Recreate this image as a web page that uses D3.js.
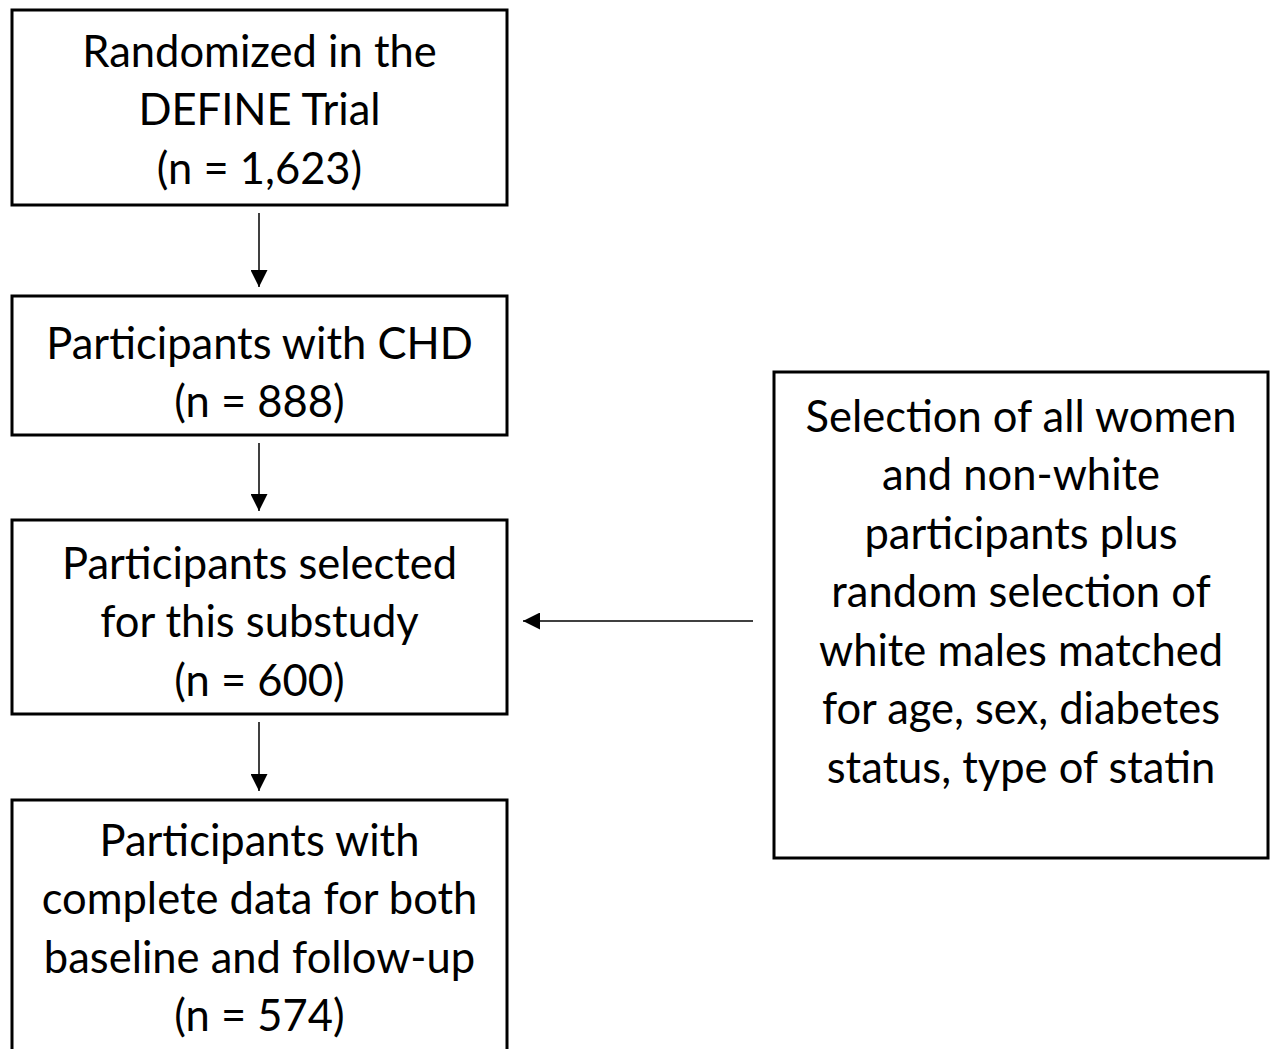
<!DOCTYPE html>
<html><head><meta charset="utf-8">
<script src="https://cdn.jsdelivr.net/npm/d3@7"></script>
<style>body{margin:0;background:#fff}</style>
</head><body>
<script>
const boxLabels = [
  ["Randomized in the", "DEFINE Trial"],
  ["Participants with CHD"],
  ["Participants selected", "for this substudy"],
  ["Participants with", "complete data for both", "baseline and follow-up"]
];
const boxCounts = ["1,623", "888", "600", "574"];
const sideLabel = ["Selection of all women", "and non-white", "participants plus", "random selection of", "white males matched", "for age, sex, diabetes", "status, type of statin"];

const W = 1270, H = 1049;
const svg = d3.select("body").append("svg").attr("width", W).attr("height", H);
const FS = 43.5, LH = 58.5;
const font = "Lato, 'Open Sans', sans-serif";

// layout (pixel geometry)
const boxGeom = [
  {x0: 12, x1: 507, y0: 10, y1: 205, firstLine: 51},
  {x0: 12, x1: 507, y0: 296, y1: 435, firstLine: 343},
  {x0: 12, x1: 507, y0: 520, y1: 714, firstLine: 563},
  {x0: 12, x1: 507, y0: 800, y1: 1080, firstLine: 840}
];
const sideGeom = {x0: 774, x1: 1268, y0: 372, y1: 858, firstLine: 416};

svg.append("defs").append("marker")
  .attr("id", "ah").attr("viewBox", "0 0 10 10").attr("refX", 10).attr("refY", 5)
  .attr("markerWidth", 17).attr("markerHeight", 17).attr("markerUnits", "userSpaceOnUse")
  .attr("orient", "auto")
  .append("path").attr("d", "M0,0 L10,5 L0,10 Z").attr("fill", "#000");

function drawBox(g, lines) {
  svg.append("rect").attr("x", g.x0).attr("y", g.y0)
    .attr("width", g.x1 - g.x0).attr("height", g.y1 - g.y0)
    .attr("fill", "none").attr("stroke", "#000").attr("stroke-width", 3);
  const cx = (g.x0 + g.x1) / 2;
  svg.append("g").selectAll("text").data(lines).join("text")
    .attr("x", cx).attr("y", (d, i) => g.firstLine + i * LH)
    .attr("dy", "0.36em").attr("text-anchor", "middle")
    .attr("font-family", font).attr("font-size", FS).attr("fill", "#000")
    .text(d => d);
}

boxLabels.forEach((lab, i) => drawBox(boxGeom[i], lab.concat(["(n = " + boxCounts[i] + ")"])));
drawBox(sideGeom, sideLabel);

// vertical arrows
for (let i = 0; i < 3; i++) {
  const a = boxGeom[i], b = boxGeom[i + 1];
  svg.append("line").attr("x1", 259).attr("x2", 259)
    .attr("y1", a.y1 + 8).attr("y2", b.y0 - 9)
    .attr("stroke", "#000").attr("stroke-width", 1.5).attr("marker-end", "url(#ah)");
}
// horizontal arrow
svg.append("line").attr("x1", 753).attr("x2", 523).attr("y1", 621).attr("y2", 621)
  .attr("stroke", "#000").attr("stroke-width", 1.5).attr("marker-end", "url(#ah)");
</script>
</body></html>
